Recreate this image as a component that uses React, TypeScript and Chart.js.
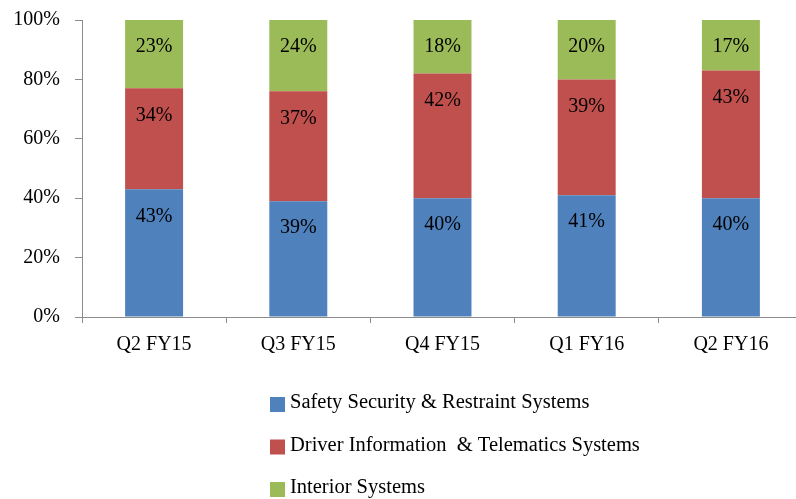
import React, { useEffect, useRef } from "react";
import { Chart, registerables } from "chart.js";

Chart.register(...registerables);

const categories = ["Q2 FY15", "Q3 FY15", "Q4 FY15", "Q1 FY16", "Q2 FY16"];
const seriesNames = [
  "Safety Security & Restraint Systems",
  "Driver Information  & Telematics Systems",
  "Interior Systems",
];
const safetyValues = [43, 39, 40, 41, 40];
const driverValues = [34, 37, 42, 39, 43];
const interiorValues = [23, 24, 18, 20, 17];
const seriesColors = ["#4F81BD", "#C0504D", "#9BBB59"];
const yTicks = [0, 20, 40, 60, 80, 100];

const FONT = "'Liberation Serif', 'Times New Roman', serif";
const AXIS_COLOR = "#8c8c8c";

const labelPlugin = {
  id: "segLabels",
  afterDatasetsDraw(chart: any) {
    const ctx = chart.ctx;
    ctx.save();
    ctx.font = `20px ${FONT}`;
    ctx.fillStyle = "#000";
    ctx.textAlign = "center";
    ctx.textBaseline = "middle";
    chart.data.datasets.forEach((ds: any, i: number) => {
      const meta = chart.getDatasetMeta(i);
      meta.data.forEach((el: any, j: number) => {
        ctx.fillText(`${ds.data[j]}%`, el.x, el.y + 27);
      });
    });
    ctx.restore();
  },
};

const legendPlugin = {
  id: "stackLegend",
  afterDraw(chart: any) {
    const ctx = chart.ctx;
    ctx.save();
    ctx.font = `20.5px ${FONT}`;
    ctx.textBaseline = "middle";
    ctx.textAlign = "left";
    chart.data.datasets.forEach((ds: any, i: number) => {
      const y = 397 + i * 42.5;
      ctx.fillStyle = ds.backgroundColor;
      ctx.fillRect(270, y, 15, 15);
      ctx.fillStyle = "#000";
      ctx.fillText(ds.label, 290, y + 6);
    });
    ctx.restore();
  },
};

export default function App() {
  const ref = useRef<HTMLCanvasElement>(null);
  useEffect(() => {
    if (!ref.current) return;
    const seriesValues = [safetyValues, driverValues, interiorValues];
    const chart = new Chart(ref.current, {
      type: "bar",
      data: {
        labels: categories,
        datasets: seriesNames.map((name, i) => ({
          label: name,
          data: seriesValues[i],
          backgroundColor: seriesColors[i],
          borderWidth: 0,
          categoryPercentage: 1,
          barPercentage: 0.402,
        })),
      },
      options: {
        animation: false,
        responsive: false,
        maintainAspectRatio: false,
        layout: { padding: { top: 20, right: 0, bottom: 0, left: 0 } },
        plugins: {
          legend: { display: false },
          tooltip: { enabled: false },
        },
        scales: {
          x: {
            stacked: true,
            border: { display: true, color: AXIS_COLOR, width: 1 },
            grid: {
              display: true,
              drawOnChartArea: false,
              drawTicks: true,
              tickLength: 6,
              color: AXIS_COLOR,
              offset: true,
            },
            ticks: {
              color: "#000",
              font: { family: FONT, size: 20 },
              padding: 10,
              maxRotation: 0,
            },
            afterFit(scale: any) {
              scale.height = 182;
              scale.paddingLeft = 0;
              scale.paddingRight = 0;
            },
          },
          y: {
            stacked: true,
            min: 0,
            max: 100,
            afterBuildTicks(scale: any) {
              scale.ticks = yTicks.map((v) => ({ value: v }));
            },
            border: { display: true, color: AXIS_COLOR, width: 1 },
            grid: {
              display: true,
              drawOnChartArea: false,
              drawTicks: true,
              tickLength: 7,
              color: AXIS_COLOR,
            },
            ticks: {
              color: "#000",
              font: { family: FONT, size: 20 },
              padding: 15,
              callback: (v: any) => `${v}%`,
            },
            afterFit(scale: any) {
              scale.width = 82;
              scale.paddingTop = 0;
              scale.paddingBottom = 0;
            },
          },
        },
      },
      plugins: [labelPlugin, legendPlugin],
    });
    return () => chart.destroy();
  }, []);

  return (
    <div
      style={{
        position: "fixed",
        left: 0,
        top: 0,
        width: 796,
        height: 499,
        overflow: "hidden",
        background: "#fff",
      }}
    >
      <canvas ref={ref} width={803} height={499} style={{ display: "block" }} />
    </div>
  );
}
